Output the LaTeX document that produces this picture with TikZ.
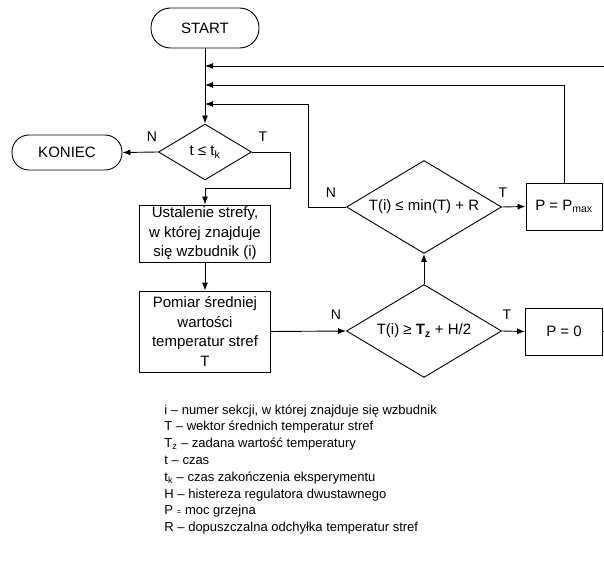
\documentclass[tikz,border=0pt]{standalone}
\usepackage{fontspec}
\setmainfont{Liberation Sans}
\usetikzlibrary{shapes.geometric,arrows.meta}
\begin{document}
\begin{tikzpicture}[x=1pt,y=-1pt,
  line width=0.9pt,
  every node/.style={font=\fontsize{15}{19.5}\selectfont, inner sep=0pt, line width=0.9pt},
  arr/.style={-{Latex[length=8pt,width=6pt]}},
  term/.style={draw, rounded corners=17pt, minimum width=108pt, minimum height=40pt},
  dec/.style={draw, diamond, aspect=1.66},
  proc/.style={draw, align=center},
  lbl/.style={font=\fontsize{14}{16}\selectfont}
]
\useasboundingbox (0,0) rectangle (604,561);
\node[term, rounded corners=19.5pt] (start) at (205,28) {START};
\node[term, minimum width=110pt, minimum height=35pt] (koniec) at (67,152.5) {KONIEC};
\node[dec, minimum width=93pt, minimum height=56pt] (d1) at (205,152) {t ≤ t\textsubscript{k}};
\node[proc, minimum width=131pt, minimum height=57pt] (box1) at (205,233.5) {Ustalenie strefy,\\ w której znajduje\\ się wzbudnik (i)};
\node[proc, minimum width=131pt, minimum height=81pt] (box2) at (205,331.5) {Pomiar średniej\\ wartości\\ temperatur stref\\ T};
\node[dec, minimum width=155pt, minimum height=93pt] (d2) at (424,207) {T(i) ≤ min(T) + R};
\node[dec, minimum width=155pt, minimum height=93pt] (d3) at (424,331) {T(i) ≥ \textbf{T\textsubscript{z}} + H/2};
\node[proc, minimum width=76pt, minimum height=47pt] (pmax) at (564,206.5) {P = P\textsubscript{max}};
\node[proc, minimum width=77pt, minimum height=47pt] (p0) at (564,331.5) {P = 0};

\coordinate (j1) at (205,66);
\coordinate (j2) at (205,85);
\coordinate (j3) at (205,104);
\coordinate (e1) at (604,66);
\coordinate (e2) at (604,331.5);
\coordinate (c1) at (290,188);
\coordinate (k3) at (308,207);

\draw[arr] (start.south) -- (d1.north);
\draw[arr] (e1) -- (j1);
\draw[arr] (pmax.north) |- (j2);
\draw[arr] (d2.west) -- (k3) |- (j3);
\draw[arr] (d1.west) -- (koniec.east);
\draw[arr] (d1.east) -| (c1) -| (box1.north);
\draw[arr] (box1.south) -- (box2.north);
\draw[arr] (box2.east) -- (d3.west);
\draw[arr] (d3.north) -- (d2.south);
\draw[arr] (d2.east) -- (pmax.west);
\draw[arr] (d3.east) -- (p0.west);
\draw (p0.east) -- (e2);

\node[lbl] (n1) at (152,137) {N};
\node[lbl] (t1) at (263,137) {T};
\node[lbl] (n2) at (331,193) {N};
\node[lbl] (t2) at (503,193) {T};
\node[lbl] (n3) at (336,315) {N};
\node[lbl] (t3) at (507,315) {T};

\node[anchor=west, align=left, font=\fontsize{13}{16.8}\selectfont] (legend) at (164,469.5) {%
i – numer sekcji, w której znajduje się wzbudnik\\
T – wektor średnich temperatur stref\\
T\textsubscript{z} – zadana wartość temperatury\\
t – czas\\
t\textsubscript{k} – czas zakończenia eksperymentu\\
H – histereza regulatora dwustawnego\\
P {\fontsize{8}{9}\selectfont =} moc grzejna\\
R – dopuszczalna odchyłka temperatur stref};
\end{tikzpicture}
\end{document}
